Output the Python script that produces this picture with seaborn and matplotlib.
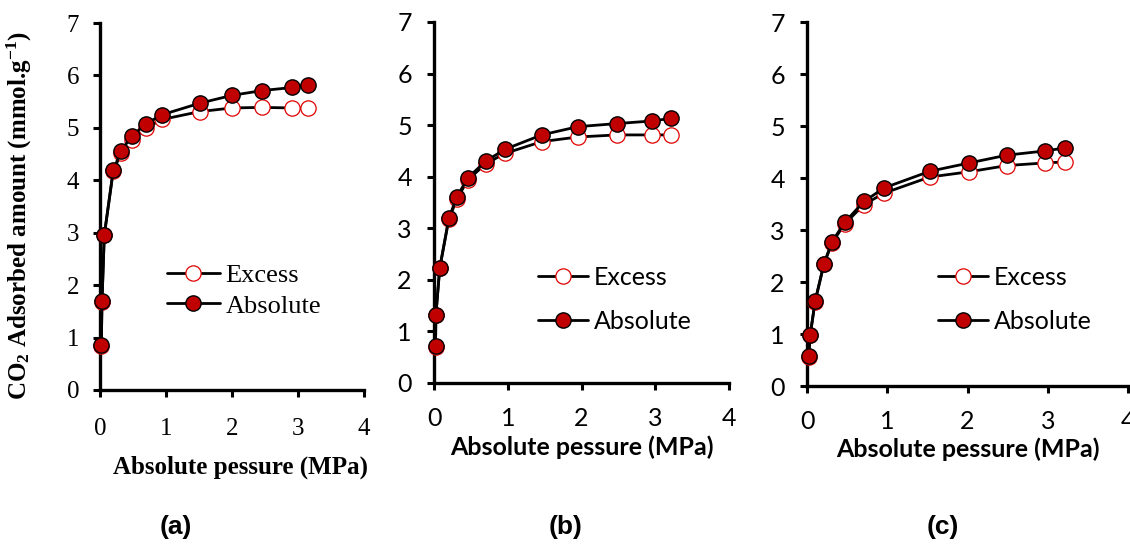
import matplotlib
matplotlib.use("Agg")
import matplotlib.pyplot as plt
import pandas as pd
import seaborn as sns

# Absolute pressure (MPa) and CO2 uptake (mmol/g), one sample per panel
p_a = [0.02, 0.03, 0.065, 0.20, 0.32, 0.48, 0.70, 0.94, 1.51, 2.00, 2.45, 2.91, 3.15]
abs_a = [0.85, 1.69, 2.96, 4.19, 4.56, 4.84, 5.08, 5.25, 5.47, 5.62, 5.71, 5.77, 5.82]
exc_a = [0.84, 1.68, 2.95, 4.17, 4.52, 4.77, 5.00, 5.16, 5.31, 5.38, 5.39, 5.38, 5.37]

p_b = [0.02, 0.025, 0.077, 0.20, 0.31, 0.46, 0.70, 0.96, 1.46, 1.95, 2.48, 2.95, 3.21]
abs_b = [0.71, 1.32, 2.23, 3.19, 3.61, 3.98, 4.30, 4.53, 4.81, 4.97, 5.03, 5.08, 5.13]
exc_b = [0.70, 1.31, 2.22, 3.17, 3.57, 3.94, 4.25, 4.45, 4.68, 4.77, 4.81, 4.81, 4.81]

p_c = [0.02, 0.04, 0.10, 0.21, 0.31, 0.47, 0.71, 0.96, 1.53, 2.02, 2.49, 2.96, 3.22]
abs_c = [0.57, 0.99, 1.63, 2.35, 2.77, 3.15, 3.55, 3.81, 4.13, 4.29, 4.44, 4.52, 4.58]
exc_c = [0.56, 0.98, 1.62, 2.34, 2.75, 3.12, 3.49, 3.71, 4.02, 4.12, 4.24, 4.29, 4.31]

series_names = ["Excess", "Absolute"]
x_ticks = [0, 1, 2, 3, 4]
y_ticks = [0, 1, 2, 3, 4, 5, 6, 7]
panel_tags = ["(a)", "(b)", "(c)"]
x_title = "Absolute pessure (MPa)"
y_title = r"CO$_2$ Adsorbed amount (mmol.g$^{-1}$)"

sns.set_style("white")
plt.rcParams["mathtext.default"] = "regular"

fig = plt.figure(figsize=(11.3, 5.44), dpi=100)

DARK_RED = "#C00000"
RED = "#E00000"
INK = "black"

panels = [
    dict(data=(p_a, exc_a, abs_a), rect=[0.0885, 0.2831, 0.2336, 0.6746],
         font="Liberation Serif", tick_size=18, lab_size=18, leg_size=19,
         leg_anchor=(0.254, 0.345), leg_spacing=0.28,
         xlab_y=-0.18, xlab_x=0.534, xpad=15, ypad=10),
    dict(data=(p_b, exc_b, abs_b), rect=[0.3841, 0.2960, 0.2611, 0.6636],
         font="Lato", tick_size=18, lab_size=18, leg_size=18,
         leg_anchor=(0.353, 0.325), leg_spacing=0.85,
         xlab_y=-0.145, xlab_x=0.5, xpad=12, ypad=11),
    dict(data=(p_c, exc_c, abs_c), rect=[0.7142, 0.2904, 0.2841, 0.6691],
         font="Lato", tick_size=18, lab_size=18, leg_size=18,
         leg_anchor=(0.408, 0.33), leg_spacing=0.85,
         xlab_y=-0.14, xlab_x=0.5, xpad=12, ypad=11),
]

axes = []
for spec in panels:
    ax = fig.add_axes(spec["rect"])
    axes.append(ax)
    p, exc, absv = spec["data"]
    n = len(p)
    df = pd.DataFrame({
        "pressure": list(p) * 2,
        "amount": list(exc) + list(absv),
        "series": [series_names[0]] * n + [series_names[1]] * n,
    })

    sns.lineplot(data=df[df["series"] == "Excess"], x="pressure", y="amount", ax=ax,
                 estimator=None, sort=False, color="black", linewidth=2.0,
                 marker="o", markersize=11, markerfacecolor="white",
                 markeredgecolor=RED, markeredgewidth=0.9,
                 clip_on=False, zorder=4, label="Excess")
    sns.lineplot(data=df[df["series"] == "Absolute"], x="pressure", y="amount", ax=ax,
                 estimator=None, sort=False, color="black", linewidth=2.0,
                 marker="o", markersize=11, markerfacecolor=DARK_RED,
                 markeredgecolor="black", markeredgewidth=1.0,
                 clip_on=False, zorder=5, label="Absolute")

    ax.set_xlim(0, 4)
    ax.set_ylim(0, 7)
    ax.set_xticks(x_ticks)
    ax.set_yticks(y_ticks)
    for side in ("top", "right"):
        ax.spines[side].set_visible(False)
    for side in ("left", "bottom"):
        ax.spines[side].set_linewidth(2.4)
        ax.spines[side].set_color("black")
    ax.tick_params(axis="both", direction="out", length=5, width=2.2, color="black",
                   labelsize=spec["tick_size"], labelcolor=INK,
                   labelfontfamily=spec["font"], left=True, bottom=True)
    ax.tick_params(axis="x", pad=spec["xpad"])
    ax.tick_params(axis="y", pad=spec["ypad"])

    ax.set_xlabel(x_title, fontsize=spec["lab_size"], fontweight="bold",
                  family=spec["font"], color=INK)
    ax.xaxis.set_label_coords(spec["xlab_x"], spec["xlab_y"])
    ax.set_ylabel("")

    leg = ax.legend(loc="upper left", bbox_to_anchor=spec["leg_anchor"],
                    frameon=False, borderpad=0, borderaxespad=0,
                    handlelength=2.0, handletextpad=0.22,
                    labelspacing=spec["leg_spacing"], numpoints=1,
                    prop={"family": spec["font"], "size": spec["leg_size"]})
    for t in leg.get_texts():
        t.set_color(INK)

axes[0].set_ylabel(y_title, fontsize=18, fontweight="bold",
                   family="Liberation Serif", color=INK)
axes[0].yaxis.set_label_coords(-0.25, 0.475)

for tag, xc in zip(panel_tags, [176, 566, 943]):
    fig.text(xc / 1130, 1 - 527 / 544, tag, ha="center", va="center",
             fontsize=19, fontweight="bold", family="Liberation Sans", color="black")

fig.savefig("out.png", dpi=100)
